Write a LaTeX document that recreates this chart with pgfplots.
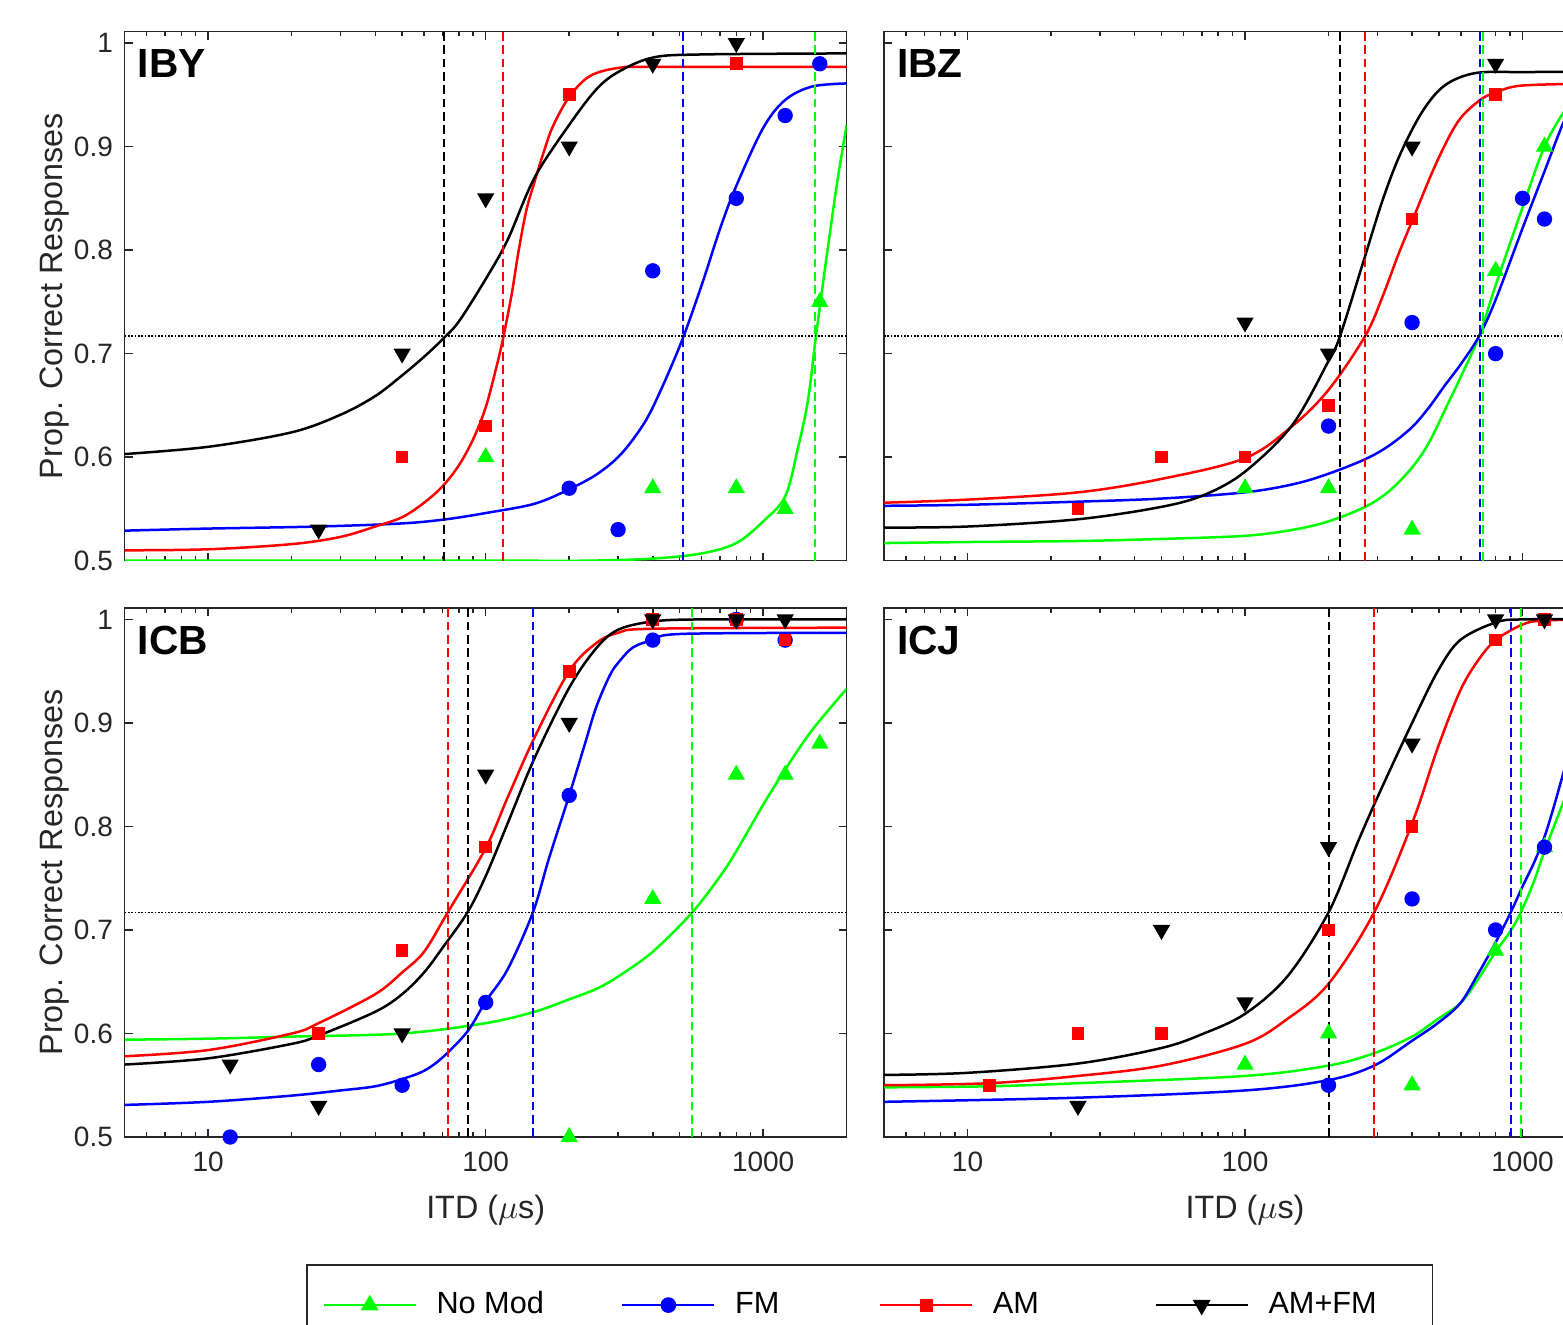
\documentclass[border=0pt]{standalone}
\usepackage{fontspec}
\setmainfont{Liberation Sans}
\usepackage{pgfplots}
\pgfplotsset{compat=1.18}

\definecolor{mgreen}{RGB}{0,255,0}
\definecolor{mblue}{RGB}{0,0,255}
\definecolor{mred}{RGB}{255,0,0}
\definecolor{axgray}{RGB}{38,38,38}

\pgfplotsset{
  psyaxis/.style={
    xmin=5, xmax=2000, ymin=0.5, ymax=1.011,
    scale only axis, width=216.6pt, height=158.7pt,
    ytick={0.5,0.6,0.7,0.8,0.9,1},
    log ticks with fixed point,
    tick align=inside,
    major tick length=2.4pt, minor tick length=1.4pt,
    axis line style={axgray, line width=0.45pt},
    every tick/.style={axgray, line width=0.45pt},
    tick label style={font=\fontsize{8.4}{10}\selectfont, text=axgray},
    label style={font=\fontsize{9.7}{11}\selectfont, text=axgray},
    ylabel shift=-5.5pt,
    xticklabel shift=1pt,
    clip marker paths=false,
    /pgf/number format/1000 sep={},
    /pgf/number format/assume math mode=true,
  },
  fitcurve/.style={line width=0.75pt, no marks, smooth, tension=0.55},
  threshv/.style={line width=0.6pt, dash pattern=on 2.6pt off 1.4pt, no marks},
  threshh/.style={black, line width=0.5pt, dash pattern=on 0.5pt off 0.5pt, no marks},
  nomodpts/.style={only marks, mgreen, mark=triangle*, mark size=2.6pt},
  fmpts/.style={only marks, mblue, mark=*, mark size=2.1pt},
  ampts/.style={only marks, mred, mark=square*, mark size=1.7pt},
  amfmpts/.style={only marks, black, mark=triangle*, mark size=2.6pt, mark options={rotate=180}},
}
\tikzset{paneltitle/.style={anchor=north west, inner sep=0pt, font=\bfseries\fontsize{12.2}{14}\selectfont}}

\begin{document}
\begin{tikzpicture}

% ---------------- IBY (top left)
\begin{semilogxaxis}[psyaxis, at={(37.4pt,-9.5pt)}, anchor=north west,
  xticklabels={}, ylabel={Prop. Correct Responses}]
\addplot[fitcurve, mgreen] coordinates {(5,0.5) (100,0.5) (230,0.5) (400,0.502) (600,0.507)
  (800,0.517) (1000,0.538) (1200,0.562) (1330,0.607) (1450,0.655) (1550,0.717)
  (1700,0.797) (1850,0.866) (2000,0.921)};
\addplot[fitcurve, mblue] coordinates {(5,0.529) (10,0.531) (25,0.533) (50,0.536) (72,0.540)
  (100,0.546) (150,0.555) (200,0.569) (250,0.583) (300,0.600) (350,0.622) (400,0.648) (500,0.707)
  (600,0.766) (700,0.821) (800,0.862) (1000,0.918) (1200,0.945) (1500,0.958) (2000,0.961)};
\addplot[fitcurve, mred] coordinates {(5,0.510) (10,0.511) (20,0.516) (30,0.523) (40,0.533)
  (50,0.542) (60,0.556) (70,0.572) (80,0.592) (90,0.617) (100,0.648) (110,0.690)
  (116,0.717) (124,0.757) (131,0.797) (140,0.838) (150,0.866) (162,0.895) (175,0.920)
  (200,0.948) (237,0.968) (300,0.976) (400,0.977) (2000,0.977)};
\addplot[fitcurve, black] coordinates {(5,0.603) (10,0.610) (20,0.624) (30,0.641) (40,0.659)
  (50,0.679) (60,0.697) (70,0.714) (80,0.731) (100,0.772) (120,0.810) (150,0.870)
  (200,0.921) (250,0.955) (300,0.972) (400,0.986) (600,0.989) (2000,0.990)};
\addplot[threshh] coordinates {(5,0.717) (2000,0.717)};
\addplot[threshv, black] coordinates {(71,0.5) (71,1.011)};
\addplot[threshv, mred] coordinates {(115,0.5) (115,1.011)};
\addplot[threshv, mblue] coordinates {(514,0.5) (514,1.011)};
\addplot[threshv, mgreen] coordinates {(1542,0.5) (1542,1.011)};
\addplot[nomodpts] coordinates {(100,0.60) (400,0.57) (800,0.57) (1200,0.55) (1600,0.75)};
\addplot[fmpts] coordinates {(200,0.57) (300,0.53) (400,0.78) (800,0.85) (1200,0.93) (1600,0.98)};
\addplot[ampts] coordinates {(50,0.60) (100,0.63) (200,0.95) (800,0.98)};
\addplot[amfmpts] coordinates {(25,0.53) (50,0.70) (100,0.85) (200,0.90) (400,0.98) (800,1.0)};
\node[paneltitle] at (rel axis cs:0.0175,0.967) {IBY};
\end{semilogxaxis}

% ---------------- IBZ (top right)
\begin{semilogxaxis}[psyaxis, at={(265.2pt,-9.5pt)}, anchor=north west,
  xticklabels={}, yticklabels={}]
\addplot[fitcurve, mgreen] coordinates {(5,0.517) (10,0.518) (25,0.519) (50,0.521) (100,0.524)
  (150,0.530) (200,0.538) (271,0.552) (330,0.567) (400,0.590) (460,0.614) (524,0.645)
  (600,0.678) (698,0.717) (800,0.766) (1000,0.841) (1200,0.900) (1430,0.936) (1600,0.950)
  (2000,0.965)};
\addplot[fitcurve, mblue] coordinates {(5,0.553) (10,0.554) (25,0.557) (50,0.560) (100,0.566)
  (150,0.574) (200,0.584) (271,0.598) (330,0.611) (400,0.629) (460,0.648) (524,0.669)
  (600,0.690) (698,0.717) (800,0.752) (1000,0.821) (1200,0.876) (1430,0.928) (1600,0.945)
  (2000,0.960)};
\addplot[fitcurve, mred] coordinates {(5,0.556) (10,0.559) (25,0.566) (50,0.579) (100,0.599)
  (148,0.630) (200,0.665) (271,0.717) (313,0.755) (356,0.795) (400,0.828) (487,0.883)
  (585,0.924) (703,0.945) (800,0.952) (1000,0.959) (2000,0.961)};
\addplot[fitcurve, black] coordinates {(5,0.532) (10,0.533) (25,0.540) (50,0.552) (72,0.564)
  (100,0.586) (148,0.631) (200,0.693) (220,0.717) (265,0.786) (313,0.848) (363,0.893)
  (436,0.934) (524,0.959) (676,0.971) (1000,0.972) (2000,0.972)};
\addplot[threshh] coordinates {(5,0.717) (2000,0.717)};
\addplot[threshv, black] coordinates {(220,0.5) (220,1.011)};
\addplot[threshv, mred] coordinates {(271,0.5) (271,1.011)};
\addplot[threshv, mblue] coordinates {(705,0.5) (705,1.011)};
\addplot[threshv, mgreen] coordinates {(722,0.5) (722,1.011)};
\addplot[nomodpts] coordinates {(100,0.57) (200,0.57) (400,0.53) (800,0.78) (1200,0.90)};
\addplot[fmpts] coordinates {(200,0.63) (400,0.73) (800,0.70) (1000,0.85) (1200,0.83)};
\addplot[ampts] coordinates {(25,0.55) (50,0.60) (100,0.60) (200,0.65) (400,0.83) (800,0.95)};
\addplot[amfmpts] coordinates {(100,0.73) (200,0.70) (400,0.90) (800,0.98)};
\node[paneltitle] at (rel axis cs:0.0175,0.967) {IBZ};
\end{semilogxaxis}

% ---------------- ICB (bottom left)
\begin{semilogxaxis}[psyaxis, at={(37.4pt,-182.4pt)}, anchor=north west,
  xlabel={ITD ($\mu$s)}, ylabel={Prop. Correct Responses},
  legend image code/.code={\draw[mark repeat=2,mark phase=2,line width=0.5pt,#1]
    plot coordinates {(0pt,0pt) (13.8pt,0pt) (27.6pt,0pt)};},
  legend columns=4,
  legend style={at={(0.2512,-0.240)}, anchor=north west, draw=axgray, line width=0.5pt,
    font=\fontsize{9.2}{11}\selectfont, inner xsep=4.8pt, inner ysep=6pt,
    nodes={inner xsep=0pt},
    /tikz/every odd column/.append style={column sep=6pt}}]
\addlegendimage{mgreen, mark=triangle*, mark size=2.6pt}
\addlegendimage{mblue, mark=*, mark size=2.1pt}
\addlegendimage{mred, mark=square*, mark size=1.7pt}
\addlegendimage{black, mark=triangle*, mark size=2.6pt, mark options={rotate=180}}
\legend{{\makebox[55.5pt][l]{No Mod}},{\makebox[43.2pt][l]{FM}},
  {\makebox[48.6pt][l]{AM}},{\makebox[44.4pt][l]{AM+FM}}}
\addplot[fitcurve, mgreen] coordinates {(5,0.594) (10,0.595) (20,0.597) (50,0.600) (100,0.610)
  (150,0.621) (200,0.633) (250,0.643) (300,0.655) (400,0.679) (555,0.717) (700,0.752)
  (800,0.776) (1000,0.821) (1200,0.855) (1500,0.893) (2000,0.933)};
\addplot[fitcurve, mblue] coordinates {(5,0.531) (10,0.534) (20,0.540) (30,0.545) (40,0.549)
  (50,0.556) (60,0.564) (70,0.577) (86,0.602) (100,0.631) (120,0.662) (148,0.717) (169,0.769)
  (200,0.830) (228,0.880) (250,0.915) (279,0.945) (300,0.958) (340,0.973) (400,0.980)
  (509,0.986) (2000,0.987)};
\addplot[fitcurve, mred] coordinates {(5,0.578) (10,0.584) (20,0.600) (25,0.610) (40,0.638)
  (50,0.659) (60,0.679) (73,0.717) (100,0.779) (120,0.828) (150,0.886) (200,0.950)
  (250,0.977) (300,0.987) (400,0.991) (2000,0.992)};
\addplot[fitcurve, black] coordinates {(5,0.570) (10,0.576) (20,0.590) (25,0.598) (40,0.621)
  (50,0.638) (60,0.659) (70,0.683) (86,0.717) (100,0.752) (120,0.803) (150,0.866)
  (200,0.934) (250,0.972) (300,0.990) (400,0.998) (600,1.0) (2000,1.0)};
\addplot[threshh] coordinates {(5,0.717) (2000,0.717)};
\addplot[threshv, mred] coordinates {(73,0.5) (73,1.011)};
\addplot[threshv, black] coordinates {(86,0.5) (86,1.011)};
\addplot[threshv, mblue] coordinates {(148,0.5) (148,1.011)};
\addplot[threshv, mgreen] coordinates {(555,0.5) (555,1.011)};
\addplot[nomodpts] coordinates {(200,0.50) (400,0.73) (800,0.85) (1200,0.85) (1600,0.88)};
\addplot[fmpts] coordinates {(12,0.50) (25,0.57) (50,0.55) (100,0.63) (200,0.83) (400,0.98) (800,1.0) (1200,0.98)};
\addplot[ampts] coordinates {(25,0.60) (50,0.68) (100,0.78) (200,0.95) (400,1.0) (800,1.0) (1200,0.98)};
\addplot[amfmpts] coordinates {(12,0.57) (25,0.53) (50,0.60) (100,0.85) (200,0.90) (400,1.0) (800,1.0) (1200,1.0)};
\node[paneltitle] at (rel axis cs:0.0175,0.967) {ICB};
\end{semilogxaxis}

% ---------------- ICJ (bottom right)
\begin{semilogxaxis}[psyaxis, at={(265.2pt,-182.4pt)}, anchor=north west,
  xlabel={ITD ($\mu$s)}, yticklabels={}]
\addplot[fitcurve, mgreen] coordinates {(5,0.548) (12,0.549) (25,0.552) (100,0.559) (200,0.569)
  (292,0.581) (400,0.597) (495,0.614) (596,0.629) (690,0.652) (800,0.679) (900,0.698)
  (986,0.717) (1100,0.747) (1200,0.776) (1430,0.829) (1600,0.860) (2000,0.920)};
\addplot[fitcurve, mblue] coordinates {(5,0.534) (25,0.538) (100,0.545) (200,0.555) (292,0.569)
  (400,0.593) (495,0.610) (596,0.629) (690,0.657) (800,0.688) (907,0.717) (1000,0.742)
  (1100,0.765) (1200,0.790) (1300,0.820) (1430,0.859) (1600,0.900) (2000,0.955)};
\addplot[fitcurve, mred] coordinates {(5,0.550) (12,0.552) (25,0.559) (50,0.569) (100,0.590)
  (142,0.614) (200,0.648) (292,0.717) (400,0.803) (495,0.876) (596,0.931) (690,0.960)
  (800,0.980) (1000,0.995) (1200,0.999) (2000,1.0)};
\addplot[fitcurve, black] coordinates {(5,0.560) (10,0.562) (25,0.571) (50,0.586) (71,0.600)
  (100,0.619) (142,0.655) (200,0.717) (256,0.786) (307,0.834) (400,0.900) (495,0.950)
  (596,0.980) (800,0.997) (1000,1.0) (2000,1.0)};
\addplot[threshh] coordinates {(5,0.717) (2000,0.717)};
\addplot[threshv, black] coordinates {(201,0.5) (201,1.011)};
\addplot[threshv, mred] coordinates {(292,0.5) (292,1.011)};
\addplot[threshv, mblue] coordinates {(912,0.5) (912,1.011)};
\addplot[threshv, mgreen] coordinates {(991,0.5) (991,1.011)};
\addplot[nomodpts] coordinates {(100,0.57) (200,0.60) (400,0.55) (800,0.68) (1200,0.78)};
\addplot[fmpts] coordinates {(200,0.55) (400,0.73) (800,0.70) (1200,0.78)};
\addplot[ampts] coordinates {(12,0.55) (25,0.60) (50,0.60) (200,0.70) (400,0.80) (800,0.98) (1200,1.0)};
\addplot[amfmpts] coordinates {(25,0.53) (50,0.70) (100,0.63) (200,0.78) (400,0.88) (800,1.0) (1200,1.0)};
\node[paneltitle] at (rel axis cs:0.0175,0.967) {ICJ};
\end{semilogxaxis}

\pgfresetboundingbox
\path[use as bounding box] (0pt,0pt) rectangle (468.9pt,-397.2pt);
\end{tikzpicture}
\end{document}
